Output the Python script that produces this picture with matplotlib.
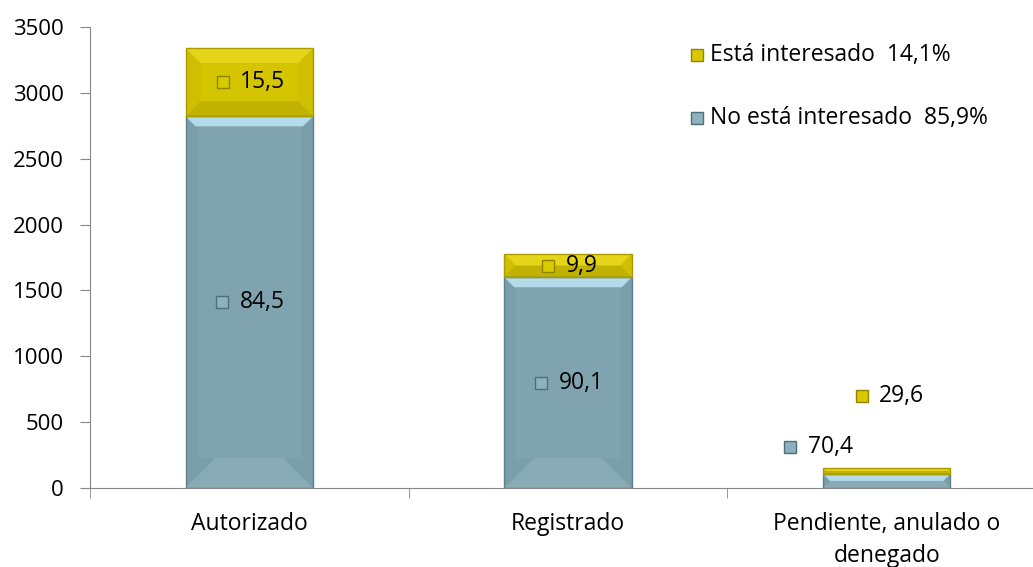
import matplotlib.pyplot as plt
from matplotlib.patches import Polygon, Rectangle
import numpy as np

categories = ['Autorizado', 'Registrado', 'Pendiente, anulado o\ndenegado']
no_interesado = [2822, 1600, 107]
interesado = [518, 176, 45]
pct_no = ['84,5', '90,1', '70,4']
pct_si = ['15,5', '9,9', '29,6']
legend_labels = ['Está interesado  14,1%', 'No está interesado  85,9%']

# label anchor (x offset from bar centre, y value)
lab_no_dx = [-0.086, -0.085, -0.303]
lab_no_y = [1411, 800, 311]
lab_si_dx = [-0.083, -0.063, -0.078]
lab_si_y = [3081, 1688, 698]

BLUE = dict(body='#80A4AF', side='#7A9FAA', top='#B4DBE9', bottom='#88ABB5', edge='#5F8089')
YELLOW = dict(body='#D5C500', side='#CFBF00', top='#E4D51A', bottom='#C1B100', edge='#A99B00')

FONT = 'Open Sans'
FS = 16.5


def bevel_bar(ax, xc, w, y0, h, col, top_px, bot_px, side_px):
    # px -> data units
    dxp = 3.0 / 956
    dyp = 3500.0 / 461
    x0, x1 = xc - w / 2, xc + w / 2
    y1 = y0 + h
    hpx = h / dyp
    t = min(top_px, hpx / 2)
    b = min(bot_px, hpx / 2)
    s = side_px
    ax.add_patch(Rectangle((x0, y0), w, h, fc=col['side'], ec='none', zorder=2))
    ax.add_patch(Rectangle((x0 + s * dxp, y0 + b * dyp), w - 2 * s * dxp, h - (t + b) * dyp,
                           fc=col['body'], ec='none', zorder=2))
    ax.add_patch(Polygon([(x0, y1), (x1, y1), (x1 - t * dxp, y1 - t * dyp), (x0 + t * dxp, y1 - t * dyp)],
                         closed=True, fc=col['top'], ec='none', zorder=3))
    ax.add_patch(Polygon([(x0, y0), (x1, y0), (x1 - b * dxp, y0 + b * dyp), (x0 + b * dxp, y0 + b * dyp)],
                         closed=True, fc=col['bottom'], ec='none', zorder=3))
    ax.add_patch(Rectangle((x0, y0), w, h, fc='none', ec=col['edge'], lw=1, zorder=4))


def main():
    plt.rcParams['font.family'] = [FONT, 'DejaVu Sans']
    fig = plt.figure(figsize=(10.33, 5.67), dpi=100)
    ax = fig.add_axes([90 / 1033, 79 / 567, 956 / 1033, 461 / 567])

    x = np.arange(len(categories))
    w = 0.4
    for i in range(len(x)):
        bevel_bar(ax, x[i], w, 0, no_interesado[i], BLUE, 10, 30, 12)
        bevel_bar(ax, x[i], w, no_interesado[i], interesado[i], YELLOW, 15, 15, 15)

    # data labels
    for i in range(len(x)):
        xm = x[i] + lab_no_dx[i]
        ax.plot(xm, lab_no_y[i], 's', ms=8, mfc='#8DB2BD', mec='#4F6F78', mew=1, zorder=5)
        ax.text(xm + 0.055, lab_no_y[i], pct_no[i], fontsize=FS, va='center', zorder=6)
        xm = x[i] + lab_si_dx[i]
        ax.plot(xm, lab_si_y[i], 's', ms=8, mfc='#D8C900', mec='#8F8300', mew=1, zorder=5)
        ax.text(xm + 0.055, lab_si_y[i], pct_si[i], fontsize=FS, va='center', zorder=6)

    # legend
    ax.plot(1.405, 3287, 's', ms=8, mfc='#D8C900', mec='#8F8300', mew=1, clip_on=False)
    ax.text(1.445, 3287, legend_labels[0], fontsize=FS, va='center')
    ax.plot(1.405, 2809, 's', ms=8, mfc='#8DB2BD', mec='#4F6F78', mew=1, clip_on=False)
    ax.text(1.445, 2809, legend_labels[1], fontsize=FS, va='center')

    ax.set_ylim(0, 3500)
    ax.set_xlim(-0.5, 2.5)
    ax.set_yticks(range(0, 3501, 500))
    ax.set_xticks(x)
    ax.set_xticklabels(categories, fontsize=FS, linespacing=1.45)
    ax.set_xticks([-0.5, 0.5, 1.5], minor=True)
    ax.tick_params(axis='x', which='major', length=0, pad=17)
    ax.tick_params(axis='x', which='minor', length=7, color='#868686', direction='out')
    ax.tick_params(axis='y', length=7, color='#868686', labelsize=16, pad=12)
    for s in ['top', 'right']:
        ax.spines[s].set_visible(False)
    ax.spines['left'].set_color('#868686')
    ax.spines['bottom'].set_color('#868686')

    fig.savefig('out.png', dpi=100)
    plt.close()


if __name__ == '__main__':
    main()
